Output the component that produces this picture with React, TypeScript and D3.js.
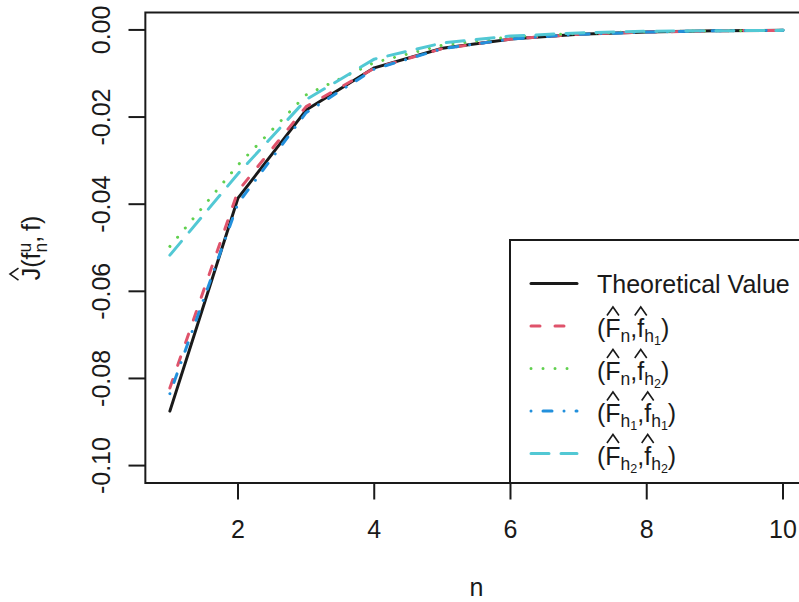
import React from "react";
import * as d3 from "d3";

const nValues = [1, 2, 3, 4, 5, 6, 7, 8, 9, 10];
const theoretical = [-0.0875, -0.0386, -0.0184, -0.0087, -0.0042, -0.0021, -0.001, -0.0005, -0.0002, -0.0001];
const fnFh1 = [-0.0822, -0.037, -0.0176, -0.0088, -0.0043, -0.0021, -0.001, -0.0005, -0.0002, -0.0001];
const fnFh2 = [-0.0497, -0.031, -0.0149, -0.0075, -0.0035, -0.0016, -0.0008, -0.0004, -0.0002, -0.0001];
const fh1Fh1 = [-0.0835, -0.0398, -0.019, -0.009, -0.0043, -0.0021, -0.001, -0.0005, -0.0002, -0.0001];
const fh2Fh2 = [-0.0517, -0.033, -0.016, -0.0067, -0.003, -0.0014, -0.0007, -0.0003, -0.0002, -0.0001];
const xTicks = [2, 4, 6, 8, 10];
const yTicks = [0, -0.02, -0.04, -0.06, -0.08, -0.1];
const xLabel = "n";

const FONT = "'Liberation Sans', Arial, Helvetica, sans-serif";
const FS = 25;

type Seg = { t: string; s: number; dy: number; hat?: boolean; gap?: number; stack?: boolean };

let ctx: CanvasRenderingContext2D | null = null;
function measure(t: string, s: number): number {
  if (!ctx) {
    const c = document.createElement("canvas");
    ctx = c.getContext("2d");
  }
  if (ctx) {
    ctx.font = `${s}px ${FONT}`;
    return ctx.measureText(t).width;
  }
  return t.length * s * 0.55;
}

function layoutSegs(segs: Seg[]) {
  let x = 0;
  let prevStart = 0;
  let prevW = 0;
  const items: (Seg & { x: number; w: number })[] = [];
  for (const g of segs) {
    const w = measure(g.t, g.s);
    let sx: number;
    if (g.stack) {
      sx = prevStart;
      x = Math.max(prevStart + prevW, sx + w);
    } else {
      x += g.gap || 0;
      sx = x;
      x += w;
    }
    items.push({ ...g, x: sx, w });
    prevStart = sx;
    prevW = w;
  }
  return { items, width: x };
}

function MathText({ x, y, segs, rotate = 0, anchor = "start" }: { x: number; y: number; segs: Seg[]; rotate?: number; anchor?: string }) {
  const { items, width } = layoutSegs(segs);
  const off = anchor === "middle" ? -width / 2 : 0;
  return (
    <g transform={`translate(${x},${y}) rotate(${rotate}) translate(${off},0)`}>
      {items.map((it, i) => (
        <g key={i}>
          <text x={it.x} y={it.dy} fontSize={it.s} fontFamily={FONT} fill="#1a1a1a">
            {it.t}
          </text>
          {it.hat && (
            <path
              d={`M${it.x + it.w / 2 - 6},-21.5 L${it.x + it.w / 2},-30 L${it.x + it.w / 2 + 6},-21.5`}
              fill="none"
              stroke="#1a1a1a"
              strokeWidth={1.6}
            />
          )}
        </g>
      ))}
    </g>
  );
}

const SUB = 17.5;
const SUB2 = 12.5;
function pairLabel(a: Seg[], b: Seg[]): Seg[] {
  return [
    { t: "(", s: FS, dy: 0 },
    ...a,
    { t: ",", s: FS, dy: 0 },
    ...b,
    { t: ")", s: FS, dy: 0 },
  ];
}
const F: Seg = { t: "F", s: FS, dy: 0, hat: true };
const f: Seg = { t: "f", s: FS, dy: 0, hat: true };
const subN: Seg = { t: "n", s: SUB, dy: 5 };
const subH = (k: string): Seg[] => [
  { t: "h", s: SUB, dy: 5 },
  { t: k, s: SUB2, dy: 8 },
];

const series = [
  { name: "Theoretical Value", values: theoretical, color: "#1a1a1a", dash: "", math: null as Seg[] | null },
  { name: "Fn fh1", values: fnFh1, color: "#DF536B", dash: "9 15", math: pairLabel([F, subN], [f, ...subH("1")]) },
  { name: "Fn fh2", values: fnFh2, color: "#61D04F", dash: "0.01 12", math: pairLabel([F, subN], [f, ...subH("2")]) },
  { name: "Fh1 fh1", values: fh1Fh1, color: "#2290DC", dash: "0.01 12 9 12", math: pairLabel([F, ...subH("1")], [f, ...subH("1")]) },
  { name: "Fh2 fh2", values: fh2Fh2, color: "#52C8D4", dash: "18 12", math: pairLabel([F, ...subH("2")], [f, ...subH("2")]) },
];

const yLabelSegs: Seg[] = [
  { t: "J", s: FS, dy: 0, hat: true },
  { t: "(", s: FS, dy: 0 },
  { t: "f", s: FS, dy: 0 },
  { t: "n", s: SUB, dy: 7 },
  { t: "u", s: SUB, dy: -9, stack: true },
  { t: ",", s: FS, dy: 0 },
  { t: "f", s: FS, dy: 0, gap: 5 },
  { t: ")", s: FS, dy: 0 },
];

export default function App() {
  const W = 799;
  const H = 602;
  const x = d3.scaleLinear().domain([0.64, 10.36]).range([145.35, 807.5]);
  const y = d3.scaleLinear().domain([-0.104, 0.004]).range([483, 12.5]);
  const line = d3
    .line<number>()
    .x((_, i) => x(nValues[i]))
    .y((d) => y(d));

  const legendRows = [283.5, 326, 368.5, 411, 453.5];

  return (
    <svg
      width={W}
      height={H}
      style={{ position: "fixed", left: 0, top: 0, background: "white" }}
      fontFamily={FONT}
    >
      <rect x={0} y={0} width={W} height={H} fill="white" />
      {series.map((s) => (
        <path
          key={s.name}
          d={line(s.values) || ""}
          fill="none"
          stroke={s.color}
          strokeWidth={3}
          strokeDasharray={s.dash || undefined}
          strokeLinecap="round"
          strokeLinejoin="round"
        />
      ))}
      {/* plot box */}
      <rect x={x(0.64)} y={y(0.004)} width={x(10.36) - x(0.64)} height={y(-0.104) - y(0.004)} fill="none" stroke="#1a1a1a" strokeWidth={2} />
      {/* x axis */}
      {xTicks.map((t) => (
        <g key={t}>
          <line x1={x(t)} x2={x(t)} y1={483} y2={499.5} stroke="#1a1a1a" strokeWidth={2} />
          <text x={x(t)} y={538} textAnchor="middle" fontSize={FS} fill="#1a1a1a">
            {t}
          </text>
        </g>
      ))}
      {/* y axis */}
      {yTicks.map((t) => (
        <g key={t}>
          <line x1={145.35} x2={128.5} y1={y(t)} y2={y(t)} stroke="#1a1a1a" strokeWidth={2} />
          <text
            transform={`translate(110,${y(t)}) rotate(-90)`}
            textAnchor="middle"
            fontSize={FS}
            fill="#1a1a1a"
          >
            {t.toFixed(2)}
          </text>
        </g>
      ))}
      <text x={(x(0.64) + x(10.36)) / 2} y={596} textAnchor="middle" fontSize={FS} fill="#1a1a1a">
        {xLabel}
      </text>
      <MathText x={40} y={248} segs={yLabelSegs} rotate={-90} anchor="middle" />
      {/* legend */}
      <rect x={510} y={240} width={300} height={243} fill="white" stroke="#1a1a1a" strokeWidth={2} />
      {series.map((s, i) => (
        <g key={s.name}>
          <line
            x1={531}
            x2={577}
            y1={legendRows[i]}
            y2={legendRows[i]}
            stroke={s.color}
            strokeWidth={3}
            strokeDasharray={s.dash || undefined}
            strokeLinecap="round"
          />
          {s.math ? (
            <MathText x={597} y={legendRows[i] + 11} segs={s.math} />
          ) : (
            <text x={597} y={legendRows[i] + 9.5} fontSize={FS} fill="#1a1a1a">
              {s.name}
            </text>
          )}
        </g>
      ))}
    </svg>
  );
}
